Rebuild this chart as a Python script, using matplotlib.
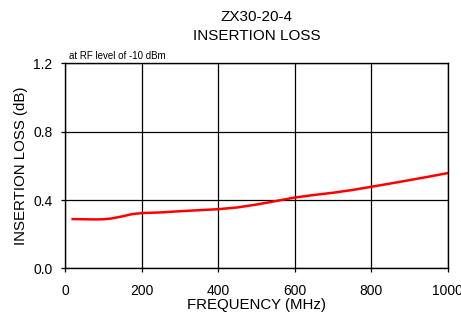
import matplotlib
matplotlib.use("Agg")
import matplotlib.pyplot as plt

plt.rcParams['font.family'] = ['Liberation Sans', 'DejaVu Sans']

# Insertion loss
freq = [20, 50, 80, 100, 120, 150, 175, 200, 250, 300, 350, 400, 450, 500,
        550, 600, 650, 700, 750, 800, 850, 900, 950, 1000]
loss = [0.289, 0.288, 0.287, 0.288, 0.292, 0.305, 0.318, 0.324, 0.328, 0.335,
        0.341, 0.347, 0.357, 0.374, 0.394, 0.415, 0.430, 0.443, 0.459, 0.478,
        0.497, 0.517, 0.537, 0.558]

fig = plt.figure(figsize=(4.61, 3.14), dpi=100)
ax = fig.add_axes([0.141, 0.145, 0.830, 0.653])

ax.plot(freq, loss, color='red', lw=1.8)

ax.set_xlim(0, 1000)
ax.set_ylim(0, 1.2)
ax.set_xticks([0, 200, 400, 600, 800, 1000])
ax.set_yticks([0.0, 0.4, 0.8, 1.2])
ax.set_yticklabels(['0.0', '0.4', '0.8', '1.2'])
ax.grid(True, color='black', lw=0.9)
ax.tick_params(direction='out', length=3, width=0.9, labelsize=10)
ax.tick_params(axis='x', pad=8)
ax.tick_params(axis='y', pad=6)
for s in ax.spines.values():
    s.set_linewidth(1.0)

ax.set_xlabel('FREQUENCY (MHz)', fontsize=10.8, labelpad=0)
ax.set_ylabel('INSERTION LOSS (dB)', fontsize=10.8, labelpad=4)

fig.text(0.556, 0.947, 'ZX30-20-4', ha='center', va='center', fontsize=11)
fig.text(0.556, 0.886, 'INSERTION LOSS', ha='center', va='center', fontsize=11)
ax.text(0.01, 1.012, 'at RF level of -10 dBm', transform=ax.transAxes,
        fontsize=7, ha='left', va='bottom')

fig.savefig('out.png', dpi=100)
